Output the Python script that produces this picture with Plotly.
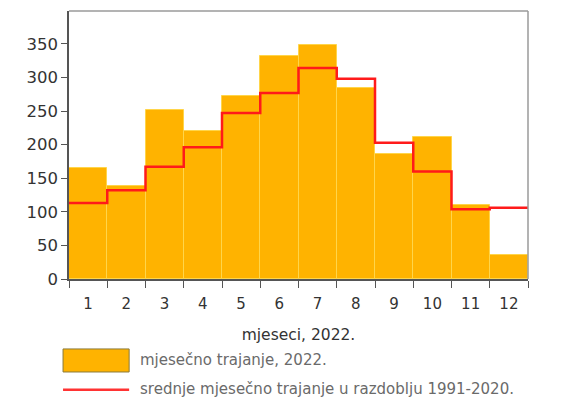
import plotly.graph_objects as go

months = [1, 2, 3, 4, 5, 6, 7, 8, 9, 10, 11, 12]
month_labels = ["1", "2", "3", "4", "5", "6", "7", "8", "9", "10", "11", "12"]
hours_2022 = [165, 138, 251, 220, 272, 332, 349, 284, 186, 211, 110, 36]
mean_1991_2020 = [113, 132, 167, 196, 247, 277, 314, 298, 203, 160, 104, 106]

bar_name = "mjesečno trajanje, 2022."
line_name = "srednje mjesečno trajanje u razdoblju 1991-2020."
x_title = "mjeseci, 2022."

FONT = "DejaVu Sans"
TXT = "#333333"

fig = go.Figure()

fig.add_trace(go.Bar(x=months, y=hours_2022, width=1, name=bar_name,
                     marker=dict(color="#FFB300", line=dict(color="#FFD54A", width=1))))

# step line: each month's value held across its bin
step_x = [m - 0.5 for m in months] + [months[-1] + 0.5]
step_y = mean_1991_2020 + [mean_1991_2020[-1]]
fig.add_trace(go.Scatter(x=step_x, y=step_y, mode="lines", line_shape="hv", name=line_name,
                         line=dict(color="#FF1A1A", width=2.5)))

# page body has an 8px margin, so the figure is a bit smaller than the window
fig.update_layout(
    width=558, height=389,
    margin=dict(l=61, r=38, t=3, b=118),
    paper_bgcolor="white", plot_bgcolor="white",
    showlegend=False,
    font=dict(family=FONT, color=TXT),
    bargap=0,
)

fig.update_xaxes(range=[0.5, 12.5], tickvals=months, ticktext=month_labels, ticks="",
                 tickfont=dict(size=15, color=TXT), ticklabelstandoff=10,
                 minor=dict(tick0=0.5, dtick=1, ticks="outside", ticklen=7, tickcolor="#555"),
                 showgrid=False, zeroline=False,
                 showline=True, linecolor="#555", linewidth=1.5, mirror=False,
                 title=dict(text=x_title, font=dict(size=15.5, color=TXT), standoff=17))
fig.update_yaxes(range=[0, 399], tickvals=[0, 50, 100, 150, 200, 250, 300, 350],
                 ticks="outside", ticklen=6, tickcolor="#555",
                 tickfont=dict(size=16.5, color=TXT),
                 showgrid=False, zeroline=False,
                 showline=True, linecolor="#555", linewidth=1.5)

# top and right frame in lighter grey
fig.add_shape(type="line", xref="paper", yref="paper", x0=0, x1=1, y0=1, y1=1,
              line=dict(color="#9a9a9a", width=1.5))
fig.add_shape(type="line", xref="paper", yref="paper", x0=1, x1=1, y0=0, y1=1,
              line=dict(color="#9a9a9a", width=1.5))

# hand-drawn legend below the plot
fig.add_shape(type="rect", xref="paper", yref="paper", x0=-0.013, x1=0.131, y0=-0.347, y1=-0.261,
              fillcolor="#FFB300", line=dict(color="#8a7a3a", width=1))
fig.add_shape(type="line", xref="paper", yref="paper", x0=-0.013, x1=0.131, y0=-0.413, y1=-0.413,
              line=dict(color="#FF3333", width=2.5))
fig.add_annotation(xref="paper", yref="paper", x=0.150, y=-0.304, text=bar_name, showarrow=False,
                   xanchor="left", yanchor="middle", font=dict(size=15, color="#6a6a6a"))
fig.add_annotation(xref="paper", yref="paper", x=0.150, y=-0.410, text=line_name, showarrow=False,
                   xanchor="left", yanchor="middle", font=dict(size=15, color="#6a6a6a"))

fig.write_html("out.html")
